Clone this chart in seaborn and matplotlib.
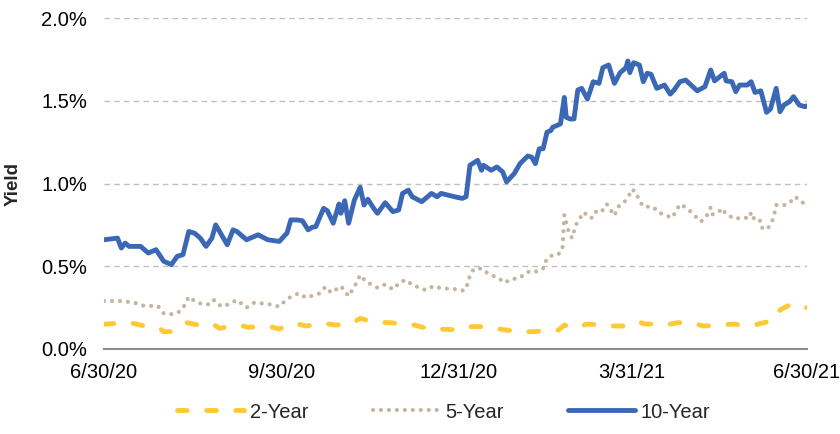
import pandas as pd
import numpy as np
import matplotlib.pyplot as plt
import seaborn as sns
from matplotlib.ticker import PercentFormatter

sns.set_style('white')
plt.rcParams['font.family'] = ['Liberation Sans', 'DejaVu Sans']

# 10-летние
dates_10y = ['2020-06-30', '2020-07-07', '2020-07-09', '2020-07-11', '2020-07-13', '2020-07-19', '2020-07-23',
             '2020-07-27', '2020-07-31', '2020-08-04', '2020-08-07', '2020-08-10', '2020-08-13', '2020-08-16',
             '2020-08-19', '2020-08-22', '2020-08-25', '2020-08-27', '2020-08-29', '2020-09-02', '2020-09-05',
             '2020-09-07', '2020-09-12', '2020-09-15', '2020-09-18', '2020-09-23', '2020-09-29', '2020-10-01',
             '2020-10-03', '2020-10-05', '2020-10-08', '2020-10-11', '2020-10-14', '2020-10-16', '2020-10-18',
             '2020-10-22', '2020-10-24', '2020-10-27', '2020-10-30', '2020-10-31', '2020-11-02', '2020-11-04',
             '2020-11-07', '2020-11-10', '2020-11-12', '2020-11-14', '2020-11-17', '2020-11-19', '2020-11-23',
             '2020-11-27', '2020-11-30', '2020-12-02', '2020-12-05', '2020-12-07', '2020-12-12', '2020-12-17',
             '2020-12-20', '2020-12-22', '2020-12-29', '2021-01-02', '2021-01-04', '2021-01-06', '2021-01-10',
             '2021-01-12', '2021-01-13', '2021-01-17', '2021-01-20', '2021-01-23', '2021-01-25', '2021-01-29',
             '2021-02-01', '2021-02-05', '2021-02-07', '2021-02-09', '2021-02-11', '2021-02-13', '2021-02-15',
             '2021-02-17', '2021-02-18', '2021-02-22', '2021-02-24', '2021-02-25', '2021-02-27', '2021-03-01',
             '2021-03-03', '2021-03-05', '2021-03-08', '2021-03-11', '2021-03-14', '2021-03-16', '2021-03-19',
             '2021-03-22', '2021-03-25', '2021-03-28', '2021-03-29', '2021-03-30', '2021-04-01', '2021-04-04',
             '2021-04-06', '2021-04-08', '2021-04-10', '2021-04-13', '2021-04-17', '2021-04-20', '2021-04-22',
             '2021-04-25', '2021-04-28', '2021-05-04', '2021-05-08', '2021-05-11', '2021-05-13', '2021-05-18',
             '2021-05-19', '2021-05-22', '2021-05-24', '2021-05-26', '2021-05-30', '2021-06-01', '2021-06-03',
             '2021-06-06', '2021-06-09', '2021-06-11', '2021-06-14', '2021-06-16', '2021-06-18', '2021-06-21',
             '2021-06-23', '2021-06-26', '2021-06-29', '2021-06-30']
yield_10y = [0.66, 0.67, 0.61, 0.64, 0.62, 0.62, 0.58,
             0.60, 0.53, 0.51, 0.56, 0.57, 0.71, 0.70,
             0.67, 0.62, 0.67, 0.75, 0.71, 0.63, 0.72,
             0.71, 0.66, 0.675, 0.69, 0.66, 0.65, 0.675,
             0.70, 0.78, 0.78, 0.775, 0.72, 0.735, 0.74,
             0.85, 0.835, 0.76, 0.876, 0.82, 0.896, 0.76,
             0.90, 0.977, 0.87, 0.905, 0.85, 0.82, 0.884,
             0.83, 0.84, 0.94, 0.96, 0.92, 0.89, 0.94,
             0.92, 0.94, 0.92, 0.91, 0.92, 1.11, 1.14,
             1.08, 1.11, 1.08, 1.10, 1.07, 1.01, 1.06,
             1.12, 1.166, 1.16, 1.12, 1.21, 1.21, 1.31,
             1.32, 1.34, 1.36, 1.52, 1.40, 1.39, 1.39,
             1.565, 1.575, 1.51, 1.615, 1.605, 1.70, 1.716,
             1.605, 1.67, 1.70, 1.74, 1.67, 1.73, 1.716,
             1.615, 1.666, 1.66, 1.575, 1.595, 1.54, 1.565,
             1.615, 1.625, 1.56, 1.585, 1.686, 1.62, 1.666,
             1.62, 1.615, 1.555, 1.595, 1.595, 1.615, 1.55,
             1.56, 1.43, 1.45, 1.575, 1.434, 1.474, 1.495,
             1.525, 1.474, 1.464, 1.47]

# 5-летние
dates_5y = ['2020-06-30', '2020-07-10', '2020-07-17', '2020-07-21', '2020-07-28', '2020-07-31', '2020-08-05',
            '2020-08-08', '2020-08-11', '2020-08-13', '2020-08-16', '2020-08-20', '2020-08-24', '2020-08-26',
            '2020-08-28', '2020-08-31', '2020-09-07', '2020-09-12', '2020-09-16', '2020-09-24', '2020-09-29',
            '2020-10-01', '2020-10-05', '2020-10-09', '2020-10-13', '2020-10-20', '2020-10-23', '2020-10-26',
            '2020-10-31', '2020-11-04', '2020-11-08', '2020-11-10', '2020-11-13', '2020-11-19', '2020-11-23',
            '2020-11-27', '2020-12-01', '2020-12-04', '2020-12-07', '2020-12-14', '2020-12-18', '2020-12-22',
            '2020-12-29', '2021-01-03', '2021-01-05', '2021-01-06', '2021-01-08', '2021-01-12', '2021-01-14',
            '2021-01-17', '2021-01-21', '2021-01-24', '2021-01-27', '2021-02-01', '2021-02-04', '2021-02-07',
            '2021-02-10', '2021-02-13', '2021-02-15', '2021-02-19', '2021-02-21', '2021-02-23', '2021-02-24',
            '2021-02-26', '2021-02-28', '2021-03-02', '2021-03-06', '2021-03-10', '2021-03-12', '2021-03-15',
            '2021-03-18', '2021-03-22', '2021-03-24', '2021-03-27', '2021-03-30', '2021-03-31', '2021-04-02',
            '2021-04-04', '2021-04-06', '2021-04-11', '2021-04-14', '2021-04-18', '2021-04-21', '2021-04-25',
            '2021-04-28', '2021-05-01', '2021-05-04', '2021-05-06', '2021-05-09', '2021-05-11', '2021-05-12',
            '2021-05-15', '2021-05-17', '2021-05-19', '2021-05-22', '2021-05-24', '2021-05-27', '2021-05-31',
            '2021-06-01', '2021-06-03', '2021-06-06', '2021-06-07', '2021-06-10', '2021-06-12', '2021-06-13',
            '2021-06-14', '2021-06-16', '2021-06-19', '2021-06-21', '2021-06-24', '2021-06-27', '2021-06-30']
yield_5y = [0.29, 0.29, 0.276, 0.26, 0.26, 0.215, 0.21,
            0.225, 0.265, 0.316, 0.29, 0.27, 0.27, 0.296,
            0.27, 0.256, 0.296, 0.25, 0.28, 0.27, 0.256,
            0.28, 0.316, 0.336, 0.31, 0.336, 0.376, 0.34,
            0.38, 0.32, 0.397, 0.447, 0.407, 0.37, 0.39,
            0.36, 0.407, 0.417, 0.387, 0.356, 0.38, 0.367,
            0.362, 0.352, 0.397, 0.447, 0.483, 0.487, 0.467,
            0.447, 0.427, 0.40, 0.42, 0.43, 0.46, 0.473,
            0.467, 0.487, 0.548, 0.574, 0.574, 0.60, 0.81,
            0.72, 0.67, 0.75, 0.826, 0.79, 0.83, 0.824,
            0.876, 0.806, 0.86, 0.884, 0.937, 0.965, 0.95,
            0.896, 0.86, 0.86, 0.824, 0.806, 0.793, 0.874,
            0.856, 0.826, 0.79, 0.77, 0.806, 0.856, 0.814,
            0.826, 0.85, 0.814, 0.796, 0.786, 0.796, 0.79,
            0.826, 0.775, 0.775, 0.723, 0.735, 0.775, 0.814,
            0.87, 0.87, 0.87, 0.884, 0.92, 0.886, 0.88]

# 2-летние
dates_2y = ['2020-06-30', '2020-07-07', '2020-07-15', '2020-07-21', '2020-07-29', '2020-07-31', '2020-08-05',
            '2020-08-12', '2020-08-18', '2020-08-25', '2020-08-29', '2020-09-08', '2020-09-13', '2020-09-23',
            '2020-09-29', '2020-10-07', '2020-10-13', '2020-10-22', '2020-10-28', '2020-11-05', '2020-11-10',
            '2020-11-18', '2020-11-26', '2020-12-02', '2020-12-08', '2020-12-16', '2020-12-24', '2021-01-01',
            '2021-01-05', '2021-01-15', '2021-01-22', '2021-01-31', '2021-02-07', '2021-02-14', '2021-02-21',
            '2021-02-24', '2021-03-01', '2021-03-08', '2021-03-15', '2021-03-22', '2021-03-29', '2021-04-03',
            '2021-04-07', '2021-04-10', '2021-04-17', '2021-04-24', '2021-05-01', '2021-05-07', '2021-05-16',
            '2021-05-23', '2021-05-30', '2021-06-05', '2021-06-13', '2021-06-16', '2021-06-21', '2021-06-24',
            '2021-06-27', '2021-06-30']
yield_2y = [0.15, 0.155, 0.155, 0.139, 0.125, 0.105, 0.105,
            0.159, 0.145, 0.155, 0.125, 0.145, 0.131, 0.139,
            0.121, 0.155, 0.139, 0.155, 0.145, 0.151, 0.185,
            0.161, 0.159, 0.151, 0.145, 0.121, 0.119, 0.115,
            0.135, 0.135, 0.119, 0.105, 0.105, 0.109, 0.115,
            0.145, 0.125, 0.151, 0.145, 0.139, 0.139, 0.165,
            0.151, 0.151, 0.145, 0.159, 0.159, 0.139, 0.145,
            0.151, 0.139, 0.151, 0.175, 0.236, 0.266, 0.266,
            0.246, 0.25]

tick_dates = ['2020-06-30', '2020-09-30', '2020-12-31', '2021-03-31', '2021-06-30']
tick_labels = ['6/30/20', '9/30/20', '12/31/20', '3/31/21', '6/30/21']

c_2y = '#FFC933'
c_5y = '#C6B49F'
c_10y = '#3B68B5'
fs = 14.5

fig = plt.figure(figsize=(8.4, 4.34), dpi=100)
ax = fig.add_axes([104 / 840, 1 - 349 / 434, 703 / 840, 331 / 434])

# линии
sns.lineplot(x=pd.to_datetime(dates_2y), y=yield_2y, ax=ax, color=c_2y, linewidth=3.5, label='2-Year')
l2 = ax.lines[-1]
l2.set_dashes((2.0, 4.0))
l2.set_dash_capstyle('round')

sns.lineplot(x=pd.to_datetime(dates_5y), y=yield_5y, ax=ax, color=c_5y, linewidth=3, label='5-Year')
l5 = ax.lines[-1]
l5.set_dashes((0.01, 1.9))
l5.set_dash_capstyle('round')

sns.lineplot(x=pd.to_datetime(dates_10y), y=yield_10y, ax=ax, color=c_10y, linewidth=3.5, label='10-Year')
l10 = ax.lines[-1]
l10.set_solid_capstyle('round')
l10.set_solid_joinstyle('round')

# оси
ax.set_xlim(pd.Timestamp(tick_dates[0]), pd.Timestamp(tick_dates[-1]))
ax.set_ylim(0, 2.0)
ax.set_yticks([0, 0.5, 1.0, 1.5, 2.0])
ax.yaxis.set_major_formatter(PercentFormatter(xmax=100, decimals=1))
ax.set_xticks(pd.to_datetime(tick_dates))
ax.set_xticklabels(tick_labels)
ax.tick_params(axis='y', length=0, pad=12, labelsize=fs, labelcolor='black')
ax.tick_params(axis='x', length=6, width=1.5, color='#8C8C8C', pad=4, labelsize=fs, labelcolor='black')
ax.yaxis.grid(True, linestyle=(0, (4, 3)), color='#BFBFBF', linewidth=1)
ax.xaxis.grid(False)
ax.set_axisbelow(True)
for s in ['top', 'right', 'left']:
    ax.spines[s].set_visible(False)
ax.spines['bottom'].set_color('#8C8C8C')
ax.spines['bottom'].set_linewidth(1.5)
ax.set_xlabel('')
ax.set_ylabel('Yield', fontsize=13.5, fontweight='bold')
ax.yaxis.set_label_coords(-0.1166, 0.5)

ax.legend(loc='center', bbox_to_anchor=(444 / 840, 1 - 412 / 434), bbox_transform=fig.transFigure,
          ncol=3, frameon=False, fontsize=fs, handlelength=3.3, columnspacing=3.2, handletextpad=0.3)

fig.savefig('out.png', dpi=100)
